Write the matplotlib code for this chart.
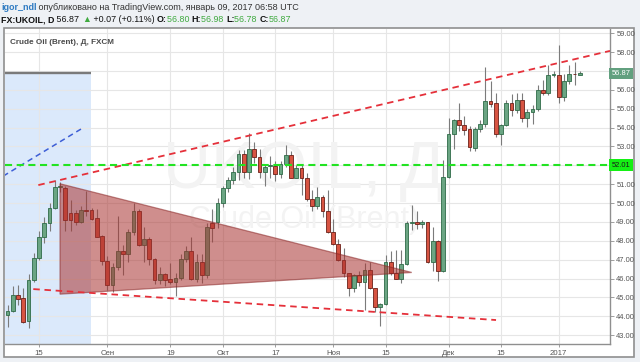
import matplotlib
matplotlib.use("Agg")
import matplotlib.pyplot as plt
from matplotlib.patches import Rectangle, Polygon
import numpy as np

# ---------------- data (daily candles, bar index 0..109) ----------------
opens = [44.05, 44.30, 45.10, 44.95, 43.75, 45.90, 47.10, 48.20, 48.95, 49.75,
         50.85, 50.80, 49.45, 49.45, 49.00, 49.65, 49.65, 49.20, 48.25, 46.95,
         45.65, 46.60, 47.45, 47.30, 48.45, 49.60, 47.75, 48.10, 47.05, 45.90,
         46.25, 45.95, 45.80, 46.05, 47.05, 47.45, 46.00, 46.90, 46.20, 48.95,
         48.98, 50.00, 50.80, 51.20, 51.65, 52.60, 51.65, 52.85, 52.45, 51.65,
         51.95, 51.95, 51.55, 52.05, 52.55, 51.35, 51.85, 51.35, 50.20, 49.85,
         50.30, 49.60, 48.45, 47.85, 47.00, 46.30, 45.50, 46.20, 45.80, 46.45,
         45.50, 44.50, 44.65, 46.85, 46.30, 46.00, 46.75, 48.93, 48.97, 48.87,
         48.97, 46.85, 48.00, 46.40, 51.40, 53.65, 54.40, 54.15, 53.90, 52.90,
         53.90, 54.20, 55.40, 55.30, 53.65, 54.15, 55.30, 54.95, 55.45, 54.50,
         54.80, 55.00, 56.00, 55.85, 56.80, 56.80, 55.60, 56.45, 56.85, 56.80]
highs = [44.60, 45.60, 45.65, 45.50, 46.25, 47.35, 48.50, 49.25, 50.00, 51.20,
         51.10, 50.90, 50.15, 49.65, 49.85, 50.65, 49.75, 49.70, 48.30, 47.20,
         46.80, 49.30, 47.75, 48.60, 50.00, 49.70, 48.75, 48.20, 47.10, 46.60,
         46.30, 46.80, 46.30, 47.30, 47.70, 48.20, 47.30, 47.30, 48.95, 49.70,
         50.25, 50.90, 51.40, 51.90, 52.80, 52.80, 53.70, 53.25, 52.85, 52.05,
         52.50, 52.25, 52.25, 53.05, 52.75, 52.00, 52.00, 51.60, 50.70, 50.85,
         50.45, 50.70, 49.15, 48.10, 47.60, 46.30, 46.25, 46.40, 46.80, 46.90,
         45.50, 44.70, 47.25, 47.45, 47.50, 47.50, 49.05, 49.90, 49.60, 49.10,
         49.00, 48.75, 48.05, 52.30, 54.50, 54.45, 55.30, 54.60, 54.10, 54.05,
         54.40, 57.20, 56.45, 55.85, 54.20, 55.45, 55.80, 55.85, 55.85, 55.00,
         55.20, 56.25, 56.50, 57.30, 57.00, 58.35, 56.85, 57.30, 57.45, 56.98]
lows = [43.45, 44.20, 44.60, 43.65, 43.40, 45.80, 47.00, 47.90, 48.50, 49.70,
        50.60, 48.50, 48.50, 48.85, 48.95, 49.30, 49.10, 48.20, 46.70, 45.40,
        45.30, 46.45, 46.20, 46.90, 48.30, 47.70, 46.90, 46.70, 45.70, 45.70,
        45.60, 45.70, 45.05, 45.90, 46.90, 45.90, 45.80, 45.75, 46.05, 47.95,
        48.70, 49.80, 50.60, 51.00, 51.20, 51.30, 51.25, 52.10, 51.30, 50.90,
        51.30, 51.15, 51.30, 51.90, 51.30, 51.30, 50.45, 50.10, 49.60, 49.70,
        49.25, 48.40, 47.80, 46.95, 46.10, 45.05, 45.30, 45.60, 44.35, 45.45,
        44.20, 43.50, 44.60, 46.20, 45.95, 45.75, 46.70, 48.55, 48.60, 48.70,
        46.80, 46.40, 45.85, 46.35, 51.30, 52.85, 53.80, 53.60, 52.75, 52.75,
        53.75, 54.05, 55.10, 53.50, 53.05, 54.10, 54.60, 54.75, 54.30, 54.05,
        54.20, 54.90, 55.70, 55.70, 56.70, 55.30, 55.40, 56.30, 56.25, 56.78]
closes = [44.30, 45.10, 44.90, 43.70, 45.90, 47.10, 48.20, 48.95, 49.75, 50.85,
          50.90, 49.10, 49.10, 49.00, 49.65, 49.60, 49.15, 48.20, 46.95, 45.65,
          46.60, 47.45, 47.30, 48.45, 49.60, 47.75, 48.10, 47.05, 45.90, 46.25,
          45.90, 45.80, 46.05, 47.05, 47.45, 46.00, 46.90, 46.20, 48.75, 48.70,
          50.00, 50.80, 51.20, 51.65, 52.60, 51.65, 52.85, 52.45, 51.65, 51.90,
          52.00, 51.55, 52.05, 52.55, 51.35, 51.85, 51.35, 50.20, 49.85, 50.30,
          49.60, 48.45, 47.85, 47.00, 46.30, 45.50, 46.20, 45.80, 46.45, 45.50,
          44.50, 44.65, 46.85, 46.30, 46.00, 46.75, 48.95, 48.98, 48.87, 48.97,
          46.85, 48.00, 46.40, 51.40, 53.65, 54.40, 54.15, 53.85, 52.95, 53.90,
          54.20, 55.40, 55.25, 53.65, 54.15, 55.30, 54.95, 55.45, 54.50, 54.80,
          55.00, 56.00, 55.85, 56.80, 56.82, 55.60, 56.45, 56.85, 56.82, 56.87]

time_tick_pos = [6, 19, 31, 41, 51, 62, 72, 84, 94, 105]
time_tick_labels = ["15", "Сен", "19", "Окт", "17", "Ноя", "15", "Дек", "15", "2017"]
price_ticks = list(range(43, 60))
hidden_price_labels = [52, 57]   # covered by the highlighted price boxes

# drawing annotations (bar index, price)
upper_channel_x = [5.87, 114.76]
upper_channel_y = [50.95, 58.06]
lower_channel_x = [4.91, 93.05]
lower_channel_y = [45.44, 43.80]
blue_line_x = [-0.8, 14.0]
blue_line_y = [51.43, 53.92]
level_price = 52.01
last_price = 56.87
triangle_x = [10.0, 10.0, 77.0]
triangle_y = [51.02, 45.17, 46.32]
range_x = [-0.48, 15.85]
range_top = 56.9

# ---------------- figure ----------------
W, H = 640, 362
fig = plt.figure(figsize=(W / 100, H / 100), dpi=100, facecolor="#eef1f5")
FAM = ["Liberation Sans", "DejaVu Sans"]

def fx(px):
    return px / W

def fy(py):
    return 1 - py / H

# white chart panel (behind axes)
panel = Rectangle((fx(4), fy(357)), fx(634) - fx(4), fy(28) - fy(357),
                  transform=fig.transFigure, facecolor="white",
                  edgecolor="#8f8f8f", linewidth=1.2, zorder=-5)
fig.patches.append(panel)

ax = fig.add_axes([fx(5), fy(344), fx(610) - fx(5), fy(29) - fy(344)])
ax.set_zorder(1)
ax.set_facecolor("white")
ax.set_xlim(-0.48, 114.76)
ax.set_ylim(42.53, 59.22)

for s in ["left", "top"]:
    ax.spines[s].set_visible(False)
for s in ["right", "bottom"]:
    ax.spines[s].set_color("#8f8f8f")
    ax.spines[s].set_linewidth(1.0)

ax.yaxis.tick_right()
ax.set_yticks(price_ticks)
ax.set_yticklabels(["" if v in hidden_price_labels else f"{v:.2f}" for v in price_ticks],
                   family=FAM)
ax.set_xticks(time_tick_pos)
ax.set_xticklabels(time_tick_labels, family=FAM)
ax.tick_params(axis="y", length=3, width=0.6, color="#8f8f8f",
               labelsize=5.4, labelcolor="#555555", pad=1.5)
ax.tick_params(axis="x", length=2, width=0.6, color="#8f8f8f",
               labelsize=5.6, labelcolor="#555555", pad=2.5)
ax.set_axisbelow(True)
ax.grid(True, color="#e6e6e6", linewidth=0.8)

# blue date-range area
ylo = ax.get_ylim()[0]
ax.add_patch(Rectangle((range_x[0], ylo), range_x[1] - range_x[0], range_top - ylo,
                       facecolor="#dbe9fb", edgecolor="none", zorder=0.2))
ax.plot(range_x, [range_top, range_top], color="#7a7a7a", lw=1.7, zorder=0.9,
        solid_capstyle="butt")

# watermark
ax.text(56.5, 51.7, "UKOIL, Д", fontsize=48, color="#f3f3f3", ha="center",
        va="center", family=FAM, zorder=0.8)
ax.text(56.5, 49.1, "Crude Oil (Brent)", fontsize=22, color="#f3f3f3",
        ha="center", va="center", family=FAM, zorder=0.8)

# candles
o = np.array(opens); h = np.array(highs); l = np.array(lows); c = np.array(closes)
xs = np.arange(len(o))
up = c >= o
ax.vlines(xs, l, h, color="#7b7b7b", linewidth=0.8, zorder=2)
body_bot = np.minimum(o, c)
body_h = np.maximum(np.abs(c - o), 0.04)
ax.bar(xs[up], body_h[up], bottom=body_bot[up], width=0.68,
       color="#6ba583", edgecolor="#2f6b48", linewidth=0.6, zorder=2.5)
ax.bar(xs[~up], body_h[~up], bottom=body_bot[~up], width=0.68,
       color="#d75442", edgecolor="#6b2018", linewidth=0.6, zorder=2.5)

# triangle
ax.add_patch(Polygon(list(zip(triangle_x, triangle_y)), closed=True,
                     facecolor="#a8322f", alpha=0.55, edgecolor="#8a2626",
                     linewidth=0.9, zorder=3))

# trend lines
ax.plot(upper_channel_x, upper_channel_y, color="#e5303a", lw=1.3,
        dashes=(3.6, 2.6), zorder=4)
ax.plot(lower_channel_x, lower_channel_y, color="#e5303a", lw=1.3,
        dashes=(3.6, 2.6), zorder=4)
ax.plot(blue_line_x, blue_line_y, color="#3d5ed6", lw=1.1,
        dashes=(3.6, 2.6), zorder=4)
ax.axhline(level_price, color="#22e322", lw=1.5, dashes=(3.4, 2.2), zorder=4)

# price labels on axis
for val, fc, tc in [(last_price, "#62a07f", "white"), (level_price, "#14f014", "#1a1a1a")]:
    ax.annotate(f"{val:.2f}", xy=(1, val), xycoords=("axes fraction", "data"),
                xytext=(1.2, 0), textcoords="offset points", ha="left",
                va="center", fontsize=5.4, color=tc, family=FAM,
                annotation_clip=False, zorder=6,
                bbox=dict(boxstyle="square,pad=0.3", fc=fc, ec="none"))

# header / title overlay
hdr = fig.add_axes([0, 0, 1, 1])
hdr.axis("off")
hdr.set_zorder(10)

hdr.text(fx(10), fy(42), "Crude Oil (Brent), Д, FXCM", fontsize=5.9,
         fontweight="bold", color="#4a4a4a", va="center", ha="left", family=FAM,
         transform=hdr.transAxes)

def chain(x, y, segs, size):
    prev = None
    for txt, col, wt in segs:
        if prev is None:
            prev = hdr.text(x, y, txt, color=col, fontweight=wt, fontsize=size,
                            transform=hdr.transAxes, va="bottom", ha="left",
                            family=FAM)
        else:
            prev = hdr.annotate(txt, xy=(1, 0), xycoords=prev, color=col,
                                fontweight=wt, fontsize=size, va="bottom",
                                ha="left", family=FAM)

GREEN = "#3faa3f"
chain(fx(1), fy(12), [("igor_ndl", "#2f7bc2", "bold"),
                      (" опубликовано на TradingView.com, январь 09, 2017 06:58 UTC",
                       "#333333", "normal")], 6.5)
chain(fx(1), fy(24), [("FX:UKOIL, D", "#111111", "bold"),
                      (" 56.87 ", "#111111", "normal"),
                      ("▲", GREEN, "normal"),
                      (" +0.07 (+0.11%) ", "#111111", "normal"),
                      ("O:", "#111111", "bold"), ("56.80 ", GREEN, "normal"),
                      ("H:", "#111111", "bold"), ("56.98 ", GREEN, "normal"),
                      ("L:", "#111111", "bold"), ("56.78 ", GREEN, "normal"),
                      ("C:", "#111111", "bold"), ("56.87", GREEN, "normal")], 6.4)

fig.savefig("out.png", dpi=100, facecolor=fig.get_facecolor())
